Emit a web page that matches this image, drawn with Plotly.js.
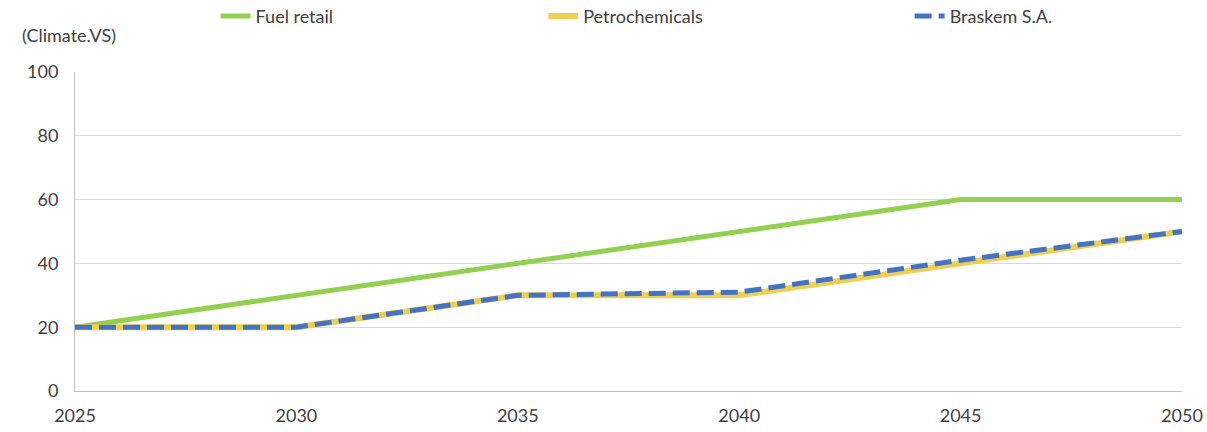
<!DOCTYPE html>
<html>
<head>
<meta charset="utf-8">
<script src="https://cdn.plot.ly/plotly-3.0.1.min.js"></script>
<style>html,body{margin:0;padding:0;background:#fff;}#chart{width:1207px;height:432px;}</style>
</head>
<body>
<div id="chart"></div>
<script>
const years = [2025, 2030, 2035, 2040, 2045, 2050];
const fuelRetail = [20, 30, 40, 50, 60, 60];
const petrochemicals = [20, 20, 30, 30, 40, 50];
const braskem = [20, 20, 30, 31, 41, 50];
const yTicks = [0, 20, 40, 60, 80, 100];
const unitLabel = '(Climate.VS)';

const font = {family: 'Lato, "Open Sans", sans-serif', size: 18, color: '#404040'};

const traces = [
  {x: years, y: fuelRetail, name: 'Fuel retail', mode: 'lines', line: {color: '#92D050', width: 5}, legend: 'legend'},
  {x: years, y: petrochemicals, name: 'Petrochemicals', mode: 'lines', line: {color: '#EECF4F', width: 6}, legend: 'legend2'},
  {x: years, y: braskem, name: 'Braskem S.A.', mode: 'lines', line: {color: '#4472C4', width: 5, dash: '17px,7px'}, legend: 'legend3'}
];

const legendBase = {orientation: 'h', yanchor: 'middle', y: 1.175, xanchor: 'left', font: font, bgcolor: 'rgba(0,0,0,0)'};

const layout = {
  width: 1207, height: 432,
  margin: {l: 75, r: 25, t: 72, b: 41, autoexpand: false},
  paper_bgcolor: '#fff', plot_bgcolor: '#fff',
  font: font,
  showlegend: true,
  legend: Object.assign({}, legendBase, {x: 0.127}),
  legend2: Object.assign({}, legendBase, {x: 0.423}),
  legend3: Object.assign({}, legendBase, {x: 0.754}),
  xaxis: {
    range: [2025, 2050], tickvals: years, ticktext: years.map(String),
    showgrid: false, zeroline: false, showline: true, linecolor: '#BFBFBF', linewidth: 1,
    ticks: '', ticklabelstandoff: 8, tickfont: font, fixedrange: true
  },
  yaxis: {
    range: [0, 100], tickvals: yTicks, showgrid: true, gridcolor: '#D9D9D9', gridwidth: 1,
    zeroline: false, showline: true, linecolor: '#BFBFBF', linewidth: 1,
    ticks: '', ticklabelstandoff: 12, tickfont: font, fixedrange: true
  },
  annotations: [{
    text: unitLabel, xref: 'paper', yref: 'paper', x: -0.0497, y: 1.116, xanchor: 'left', yanchor: 'middle',
    showarrow: false, font: font
  }]
};

Plotly.newPlot('chart', traces, layout, {staticPlot: true, displayModeBar: false});
</script>
</body>
</html>
